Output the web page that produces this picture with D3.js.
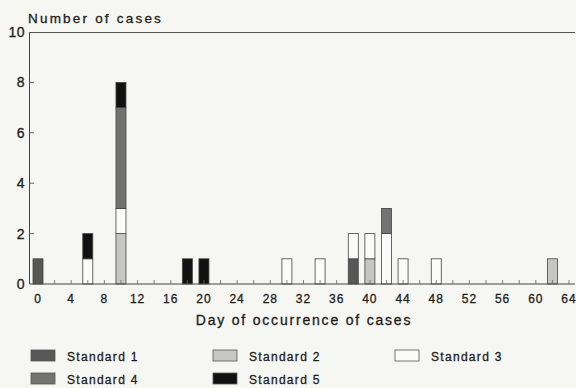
<!DOCTYPE html>
<html>
<head>
<meta charset="utf-8">
<script src="https://cdn.jsdelivr.net/npm/d3@7"></script>
<style>
  body { margin: 0; background: #f6f6f3; }
  svg text { font-family: "Liberation Sans", Arial, sans-serif; fill: #1c1c1c; stroke: #1c1c1c; stroke-width: 0.3; }
</style>
</head>
<body>
<svg id="chart" width="576" height="388"></svg>
<script>
// cases per day, one array per standard (stacked bottom to top)
const days = [0, 6, 10, 18, 20, 30, 34, 38, 40, 42, 44, 48, 62];
const standard1 = [1, 0, 0, 0, 0, 0, 0, 1, 0, 0, 0, 0, 0];
const standard2 = [0, 0, 2, 0, 0, 0, 0, 0, 1, 0, 0, 0, 1];
const standard3 = [0, 1, 1, 0, 0, 1, 1, 1, 1, 2, 1, 1, 0];
const standard4 = [0, 0, 4, 0, 0, 0, 0, 0, 0, 1, 0, 0, 0];
const standard5 = [0, 1, 1, 1, 1, 0, 0, 0, 0, 0, 0, 0, 0];
const seriesNames = ["Standard 1", "Standard 2", "Standard 3", "Standard 4", "Standard 5"];
const xTicks = d3.range(0, 65, 4);
const yTicks = [0, 2, 4, 6, 8, 10];

const colors = ["#575757", "#c6c6c3", "#fbfbf9", "#727270", "#111111"];

const svg = d3.select("#chart");
const plotLeft = 38, plotRight = 569, plotTop = 32, plotBottom = 284;

const table = days.map((d, i) => ({
  day: d,
  "Standard 1": standard1[i],
  "Standard 2": standard2[i],
  "Standard 3": standard3[i],
  "Standard 4": standard4[i],
  "Standard 5": standard5[i]
}));

const stacked = d3.stack().keys(seriesNames)(table);

const x = d3.scaleLinear().domain([0, 64]).range([plotLeft, plotRight]);
const y = d3.scaleLinear().domain([0, 10]).range([plotBottom, plotTop]);
const color = d3.scaleOrdinal().domain(seriesNames).range(colors);

// frame: left axis and top line
svg.append("line")
  .attr("x1", 29.5).attr("x2", 29.5).attr("y1", plotTop).attr("y2", plotBottom)
  .attr("stroke", "#444").attr("stroke-width", 1);
svg.append("line")
  .attr("x1", 29.5).attr("x2", 575).attr("y1", plotTop + 0.5).attr("y2", plotTop + 0.5)
  .attr("stroke", "#555").attr("stroke-width", 1);

// bars
const barW = 10;
svg.append("g")
  .selectAll("g")
  .data(stacked)
  .join("g")
  .attr("fill", d => color(d.key))
  .selectAll("rect")
  .data(d => d.filter(p => p[1] > p[0]))
  .join("rect")
  .attr("x", d => x(d.data.day) - barW / 2)
  .attr("y", d => y(d[1]))
  .attr("width", barW)
  .attr("height", d => y(d[0]) - y(d[1]))
  .attr("stroke", "#444")
  .attr("stroke-width", 0.8);

// bottom axis
const xAxis = svg.append("g")
  .attr("transform", `translate(0,${plotBottom})`);
xAxis.append("line")
  .attr("x1", 29.5).attr("x2", 575).attr("y1", 0).attr("y2", 0)
  .attr("stroke", "#444");
xAxis.selectAll(".minor")
  .data(d3.range(0, 65, 2))
  .join("line")
  .attr("class", "minor")
  .attr("x1", d => x(d)).attr("x2", d => x(d))
  .attr("y1", 0).attr("y2", -4)
  .attr("stroke", "#666").attr("stroke-width", 0.8);
xAxis.selectAll(".lab")
  .data(xTicks)
  .join("text")
  .attr("class", "lab")
  .attr("x", d => x(d))
  .attr("y", 19)
  .attr("text-anchor", "middle")
  .attr("font-size", 12)
  .attr("letter-spacing", 1)
  .text(d => d);

// left axis
const yAxis = svg.append("g");
yAxis.selectAll("line")
  .data(yTicks.slice(1, -1))
  .join("line")
  .attr("x1", 29.5).attr("x2", 34)
  .attr("y1", d => y(d)).attr("y2", d => y(d))
  .attr("stroke", "#666");
yAxis.selectAll("text")
  .data(yTicks)
  .join("text")
  .attr("x", 25)
  .attr("y", d => y(d) + 5)
  .attr("text-anchor", "end")
  .attr("font-size", 14)
  .attr("letter-spacing", 0.5)
  .text(d => d);

// titles
svg.append("text")
  .attr("x", 28).attr("y", 23)
  .attr("font-size", 13.5)
  .attr("letter-spacing", 2.2)
  .text("Number of cases");
svg.append("text")
  .attr("x", 304).attr("y", 325)
  .attr("text-anchor", "middle")
  .attr("font-size", 14)
  .attr("letter-spacing", 1.8)
  .text("Day of occurrence of cases");

// legend
const legendPos = [[31, 350], [213, 350], [395, 350], [31, 373], [213, 373]];
const legend = svg.append("g")
  .selectAll("g")
  .data(seriesNames)
  .join("g")
  .attr("transform", (d, i) => `translate(${legendPos[i][0]},${legendPos[i][1]})`);
legend.append("rect")
  .attr("width", 24).attr("height", 11)
  .attr("fill", d => color(d))
  .attr("stroke", "#555").attr("stroke-width", 0.8);
legend.append("text")
  .attr("x", 36).attr("y", 10.5)
  .attr("font-size", 12)
  .attr("letter-spacing", 1.3)
  .text(d => d);
</script>
</body>
</html>
